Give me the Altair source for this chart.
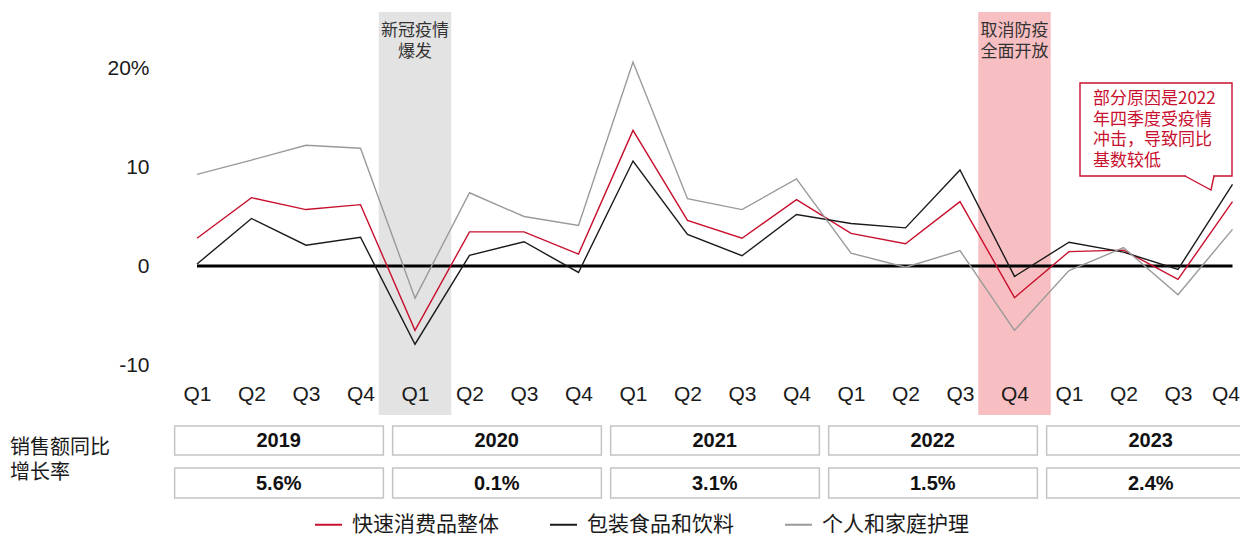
import altair as alt
import pandas as pd

# ---------------- data ----------------
quarters = ["Q1", "Q2", "Q3", "Q4"] * 5
years = ["2019", "2020", "2021", "2022", "2023"]
year_growth = ["5.6%", "0.1%", "3.1%", "1.5%", "2.4%"]

fmcg = [2.8, 6.9, 5.7, 6.2, -6.5, 3.45, 3.45, 1.2, 13.7, 4.6,
        2.8, 6.7, 3.3, 2.25, 6.5, -3.2, 1.45, 1.6, -1.35, 6.5]
food = [0.2, 4.8, 2.1, 2.9, -7.9, 1.08, 2.45, -0.65, 10.6, 3.2,
        1.04, 5.2, 4.3, 3.85, 9.7, -1.05, 2.4, 1.4, -0.35, 8.25]
care = [9.26, 10.7, 12.2, 11.9, -3.25, 7.4, 5.0, 4.1, 20.6, 6.8,
        5.7, 8.8, 1.3, -0.13, 1.55, -6.5, -0.47, 1.85, -2.9, 3.7]

series_names = ["快速消费品整体", "包装食品和饮料", "个人和家庭护理"]
series_colors = ["#c8102e", "#1a1a1a", "#9a9a9a"]

y_tick_values = [20, 10, 0, -10]
y_tick_labels = ["20%", "10", "0", "-10"]

event_quarter = [4, 15]
event_text = [["新冠疫情", "爆发"], ["取消防疫", "全面开放"]]
event_fill = ["#e3e3e3", "#f8bfc2"]

note_lines = ["部分原因是2022", "年四季度受疫情", "冲击，导致同比", "基数较低"]
row_label_lines = ["销售额同比", "增长率"]

# ---------------- layout helpers ----------------
W, H = 1232, 528
SX0, SDX = 197.0, 54.5   # screen x of first quarter, px per quarter
SY0, SDY = 266.0, 9.9    # screen y of zero line, px per point
RED = "#c8102e"
CJK = "Noto Sans CJK SC"
LAT = "Liberation Sans"


def qx(sx):
    return (sx - SX0) / SDX


def vy(sy):
    return (SY0 - sy) / SDY


xs = alt.Scale(domain=[qx(8), qx(8 + W)], nice=False, zero=False)
ys = alt.Scale(domain=[vy(8 + H), vy(8)], nice=False, zero=False)

last_q = len(quarters) - 1
q_expr = "[" + ",".join("'%s'" % q for q in quarters) + "][datum.value]"
y_expr = "''"
for v, l in zip(reversed(y_tick_values), reversed(y_tick_labels)):
    y_expr = "datum.value == %s ? '%s' : (%s)" % (v, l, y_expr)

x_axis = alt.Axis(values=list(range(len(quarters))), labelExpr=q_expr, offset=-153,
                  domain=False, ticks=False, grid=False, labelPadding=0, title=None,
                  labelFont=LAT, labelFontSize=21, labelColor="#1a1a1a",
                  labelOffset={"expr": "datum.value == %d ? -7 : 0" % last_q},
                  labelFlush=False, labelOverlap=False, labelBound=False, zindex=1)
y_axis = alt.Axis(values=y_tick_values, labelExpr=y_expr, offset=-141,
                  domain=False, ticks=False, grid=False, labelPadding=0, title=None,
                  labelFont=LAT, labelFontSize=21, labelColor="#1a1a1a",
                  labelFlush=False, labelOverlap=False, labelBound=False, zindex=1)


def X(f):
    return alt.X(f, scale=xs, axis=x_axis)


def Y(f):
    return alt.Y(f, scale=ys, axis=y_axis)


# ---------------- shaded event bands ----------------
bands = pd.DataFrame({
    "x1": [q - 0.665 for q in event_quarter],
    "x2": [q + 0.665 for q in event_quarter],
    "y1": [vy(12)] * 2,
    "y2": [vy(415)] * 2,
    "c": event_fill,
})
band_layer = alt.Chart(bands).mark_rect().encode(
    x=X("x1:Q"), x2="x2:Q", y=Y("y1:Q"), y2="y2:Q",
    color=alt.Color("c:N", scale=None),
)

ev_rows = []
for q, lines_ in zip(event_quarter, event_text):
    for k, t in enumerate(lines_):
        ev_rows.append({"x": q, "y": vy(31 + 21 * k), "t": t})
ev_layer = alt.Chart(pd.DataFrame(ev_rows)).mark_text(
    font=CJK, fontSize=17, color="#333333", align="center", baseline="middle"
).encode(x=X("x:Q"), y=Y("y:Q"), text="t:N")

# ---------------- zero line ----------------
zero_layer = alt.Chart(pd.DataFrame({"a": [0], "b": [len(fmcg) - 1], "y": [0]})).mark_rule(
    color="#000000", strokeWidth=3
).encode(x=X("a:Q"), x2="b:Q", y=Y("y:Q"))

# ---------------- series lines (with legend) ----------------
rows = []
for name, vals in zip(series_names, [fmcg, food, care]):
    for i, v in enumerate(vals):
        rows.append({"i": i, "v": v, "s": name})
line_df = pd.DataFrame(rows)

line_layer = alt.Chart(line_df).mark_line(strokeWidth=1.4).encode(
    x=X("i:Q"),
    y=Y("v:Q"),
    color=alt.Color("s:N", scale=alt.Scale(domain=series_names, range=series_colors),
                    legend=alt.Legend(
                        orient="none", legendX=306, legendY=502, direction="horizontal",
                        title=None, symbolType="stroke", symbolStrokeWidth=2,
                        symbolSize=729, labelFont=CJK, labelFontSize=21,
                        labelColor="#1a1a1a", labelOffset=9, columnPadding=47,
                        padding=0, labelLimit=400)),
    order="i:Q",
)

# ---------------- note callout ----------------
note_box = alt.Chart(pd.DataFrame({"x1": [qx(1080)], "x2": [qx(1232)],
                                   "y1": [vy(83)], "y2": [vy(176)]})).mark_rect(
    fill="#ffffff", stroke=RED, strokeWidth=1.4
).encode(x=X("x1:Q"), x2="x2:Q", y=Y("y1:Q"), y2="y2:Q")

note_gap = alt.Chart(pd.DataFrame({"a": [qx(1186)], "b": [qx(1213)], "y": [vy(176)]})).mark_rule(
    color="#ffffff", strokeWidth=3
).encode(x=X("a:Q"), x2="b:Q", y=Y("y:Q"))

tail_df = pd.DataFrame({"x": [qx(1185), qx(1211), qx(1214)],
                        "y": [vy(176), vy(190), vy(176)], "o": [0, 1, 2]})
note_tail = alt.Chart(tail_df).mark_line(color=RED, strokeWidth=1.4).encode(
    x=X("x:Q"), y=Y("y:Q"), order="o:Q")

note_df = pd.DataFrame({"x": [qx(1093)] * len(note_lines),
                        "y": [vy(99 + 20.7 * k) for k in range(len(note_lines))],
                        "t": note_lines})
note_text = alt.Chart(note_df).mark_text(
    font=CJK, fontSize=17, color=RED, align="left", baseline="middle"
).encode(x=X("x:Q"), y=Y("y:Q"), text="t:N")

# ---------------- bottom table ----------------
box_rows = []
txt_rows = []
for k, (yr, g) in enumerate(zip(years, year_growth)):
    x1, x2 = 4 * k - 0.5 + 0.09, 4 * k + 3.5 - 0.08
    box_rows.append({"x1": x1, "x2": x2, "y1": vy(426), "y2": vy(455)})
    box_rows.append({"x1": x1, "x2": x2, "y1": vy(468), "y2": vy(498)})
    txt_rows.append({"x": 4 * k + 1.5, "y": vy(441), "t": yr})
    txt_rows.append({"x": 4 * k + 1.5, "y": vy(484), "t": g})

table_boxes = alt.Chart(pd.DataFrame(box_rows)).mark_rect(
    fill="#ffffff", stroke="#c4c4c4", strokeWidth=1.5
).encode(x=X("x1:Q"), x2="x2:Q", y=Y("y1:Q"), y2="y2:Q")

table_text = alt.Chart(pd.DataFrame(txt_rows)).mark_text(
    font=LAT, fontSize=20, fontWeight="bold", color="#111111",
    align="center", baseline="middle"
).encode(x=X("x:Q"), y=Y("y:Q"), text="t:N")

row_df = pd.DataFrame({"x": [qx(10)] * len(row_label_lines),
                       "y": [vy(448 + 25 * k) for k in range(len(row_label_lines))],
                       "t": row_label_lines})
row_text = alt.Chart(row_df).mark_text(
    font=CJK, fontSize=20, color="#1a1a1a", align="left", baseline="middle"
).encode(x=X("x:Q"), y=Y("y:Q"), text="t:N")

chart = alt.layer(
    band_layer, ev_layer, zero_layer, line_layer,
    note_box, note_gap, note_tail, note_text,
    table_boxes, table_text, row_text,
).properties(
    width=W, height=H, padding=0,
    autosize=alt.AutoSizeParams(type="none"),
).configure_view(stroke=None)

chart.save("out.html", embed_options={"renderer": "svg", "actions": False})
